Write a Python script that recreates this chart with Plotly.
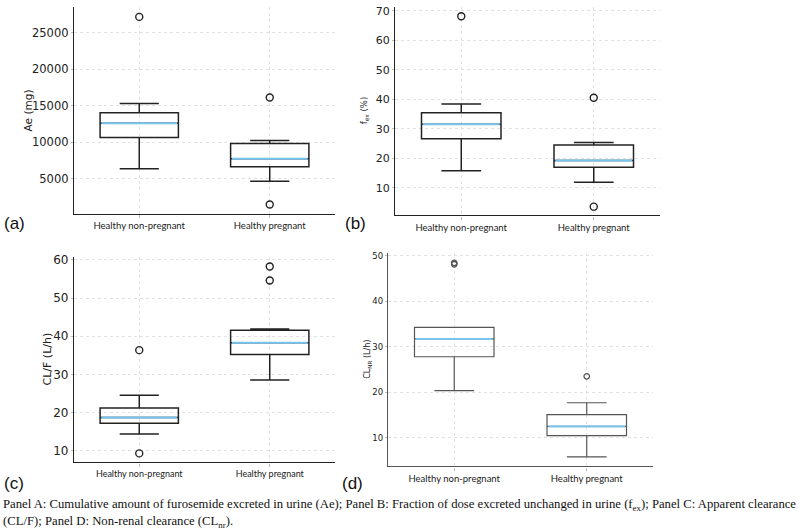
import plotly.graph_objects as go

# ---------------- data ----------------
groups = ["Healthy non-pregnant", "Healthy pregnant"]
positions = [1, 2]

ae_q1 = [10640, 6640]
ae_median = [12590, 7730]
ae_q3 = [14050, 9820]
ae_low = [6360, 4650]
ae_high = [15320, 10230]
ae_outliers = [[27180], [16140, 1460]]

fex_q1 = [26.7, 17.0]
fex_median = [31.6, 19.3]
fex_q3 = [35.45, 24.6]
fex_low = [15.8, 11.9]
fex_high = [38.5, 25.4]
fex_outliers = [[68.2], [40.6, 3.65]]

clf_q1 = [17.2, 35.2]
clf_median = [18.7, 38.25]
clf_q3 = [21.2, 41.55]
clf_low = [14.35, 28.5]
clf_high = [24.5, 41.9]
clf_outliers = [[36.35, 9.3], [58.25, 54.6]]

clnr_q1 = [27.8, 10.5]
clnr_median = [31.7, 12.5]
clnr_q3 = [34.25, 15.1]
clnr_low = [20.35, 5.8]
clnr_high = [34.25, 17.7]
clnr_outliers = [[48.1, 48.4], [23.5]]

ae_ticks = [5000, 10000, 15000, 20000, 25000]
fex_ticks = [10, 20, 30, 40, 50, 60, 70]
clf_ticks = [10, 20, 30, 40, 50, 60]
clnr_ticks = [10, 20, 30, 40, 50]

caption1 = ("Panel A: Cumulative amount of furosemide excreted in urine (Ae); Panel B: Fraction of dose "
            "excreted unchanged in urine (f<sub>ex</sub>); Panel C: Apparent clearance")
caption2 = "(CL/F); Panel D: Non-renal clearance (CL<sub>nr</sub>)."

# ---------------- layout helpers ----------------
W, H = 800, 529
def fx(px):
    return px / W
def fy(py):
    return 1 - py / H

BOX_W = 0.6
MED_COLOR = "#78c4ec"
GRID = "#e2e2e2"

panels = [
    dict(ax="", q1=ae_q1, med=ae_median, q3=ae_q3, lo=ae_low, hi=ae_high, out=ae_outliers,
         xpx=(74, 335), ypx=(4, 212), yr=[190, 28540], ticks=ae_ticks, col="#222222", tfs=11.5, lw=1.5,
         ylab="Ae (mg)", ylx=28, ylfs=10.5, letter="(a)", lx=2, ly=222, xlfs=9.5),
    dict(ax="2", q1=fex_q1, med=fex_median, q3=fex_q3, lo=fex_low, hi=fex_high, out=fex_outliers,
         xpx=(395, 660), ypx=(4, 213.7), yr=[0.66, 71.35], ticks=fex_ticks, col="#222222", tfs=11, lw=1.5,
         ylab="f<sub>ex</sub> (%)", ylx=364, ylfs=8.5, letter="(b)", lx=343, ly=222, xlfs=9.5),
    dict(ax="3", q1=clf_q1, med=clf_median, q3=clf_q3, lo=clf_low, hi=clf_high, out=clf_outliers,
         xpx=(74, 335), ypx=(255, 462), yr=[6.95, 60.86], ticks=clf_ticks, col="#222222", tfs=12, lw=1.5,
         ylab="CL/F (L/h)", ylx=47, ylfs=11, letter="(c)", lx=2, ly=483, xlfs=9),
    dict(ax="4", q1=clnr_q1, med=clnr_median, q3=clnr_q3, lo=clnr_low, hi=clnr_high, out=clnr_outliers,
         xpx=(388, 653), ypx=(251.5, 466), yr=[3.74, 50.55], ticks=clnr_ticks, col="#555555", tfs=8.5, lw=1.2,
         ylab="CL<sub>NR</sub> (L/h)", ylx=368, ylfs=8, letter="(d)", lx=340, ly=483, xlfs=9.5),
]

fig = go.Figure()
annotations = []
layout_axes = {}

for p in panels:
    xa = "x" + p["ax"]
    ya = "y" + p["ax"]
    for i, pos in enumerate(positions):
        fig.add_trace(go.Box(
            x=[pos], q1=[p["q1"][i]], median=[p["med"][i]], q3=[p["q3"][i]],
            lowerfence=[p["lo"][i]], upperfence=[p["hi"][i]],
            width=BOX_W, whiskerwidth=0.5, boxpoints=False,
            line=dict(color=p["col"], width=p["lw"]), fillcolor="rgba(0,0,0,0)",
            xaxis=xa, yaxis=ya, showlegend=False, hoverinfo="skip"))
        fig.add_trace(go.Scatter(
            x=[pos - BOX_W / 2 + 0.01, pos + BOX_W / 2 - 0.01], y=[p["med"][i], p["med"][i]],
            mode="lines", line=dict(color=MED_COLOR, width=2),
            xaxis=xa, yaxis=ya, showlegend=False, hoverinfo="skip"))
        fig.add_trace(go.Scatter(
            x=[pos] * len(p["out"][i]), y=p["out"][i], mode="markers",
            marker=dict(symbol="circle-open", size=7 if p["ax"] != "4" else 5.5,
                        color=p["col"], line=dict(width=1.4 if p["ax"] != "4" else 1.3)),
            xaxis=xa, yaxis=ya, showlegend=False, hoverinfo="skip"))

    xkey = "xaxis" + p["ax"]
    ykey = "yaxis" + p["ax"]
    layout_axes[xkey] = dict(
        domain=[fx(p["xpx"][0]), fx(p["xpx"][1])], anchor=ya, range=[0.5, 2.5],
        tickvals=positions, ticktext=groups,
        tickfont=dict(family="Lato, Liberation Sans, sans-serif", size=p["xlfs"], color="#222"),
        showline=True, linecolor=p["col"], linewidth=1.3, ticks="outside", ticklen=3,
        tickcolor="#bbbbbb", showgrid=True, gridcolor=GRID, griddash="dot", gridwidth=1,
        zeroline=False, fixedrange=True)
    layout_axes[ykey] = dict(
        domain=[fy(p["ypx"][1]), fy(p["ypx"][0])], anchor=xa, range=p["yr"],
        tickvals=p["ticks"], ticktext=[str(t) for t in p["ticks"]],
        tickfont=dict(family="DejaVu Sans, sans-serif", size=p["tfs"], color="#222"),
        showline=True, linecolor=p["col"], linewidth=1.3, ticks="outside", ticklen=2,
        tickcolor="#bbbbbb", showgrid=True, gridcolor=GRID, griddash="dot", gridwidth=1,
        zeroline=False, fixedrange=True)

    annotations.append(dict(
        text=p["ylab"], xref="paper", yref="paper",
        x=fx(p["ylx"]), y=fy((p["ypx"][0] + p["ypx"][1]) / 2),
        xanchor="center", yanchor="middle", textangle=-90, showarrow=False,
        font=dict(family="DejaVu Sans, sans-serif", size=p["ylfs"], color="#222")))
    annotations.append(dict(
        text=p["letter"], xref="paper", yref="paper", x=fx(p["lx"]), y=fy(p["ly"]),
        xanchor="left", yanchor="middle", showarrow=False,
        font=dict(family="Liberation Sans, Arial, sans-serif", size=17, color="#111")))

annotations.append(dict(
    text=caption1, xref="paper", yref="paper", x=fx(1), y=fy(505),
    xanchor="left", yanchor="middle", showarrow=False,
    font=dict(family="Liberation Serif, Times New Roman, serif", size=12.7, color="#111")))
annotations.append(dict(
    text=caption2, xref="paper", yref="paper", x=fx(1), y=fy(522),
    xanchor="left", yanchor="middle", showarrow=False,
    font=dict(family="Liberation Serif, Times New Roman, serif", size=12.7, color="#111")))

fig.update_layout(
    width=W, height=H, margin=dict(l=0, r=0, t=0, b=0),
    paper_bgcolor="white", plot_bgcolor="white",
    annotations=annotations, showlegend=False, **layout_axes)

fig.write_html("out.html")
